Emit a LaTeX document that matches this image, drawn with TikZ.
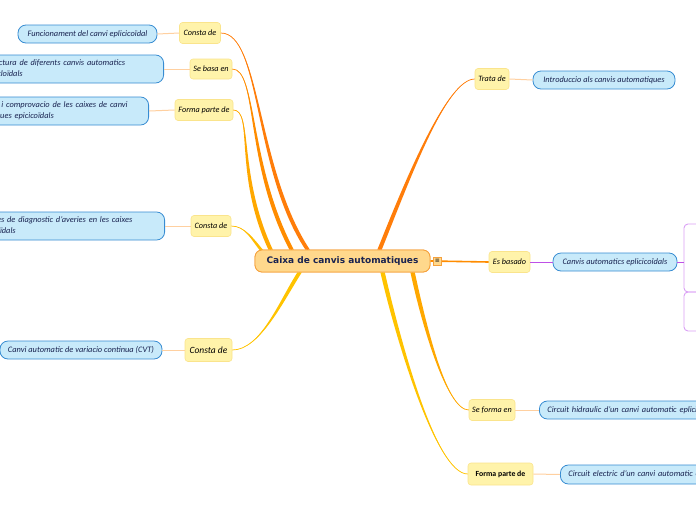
\documentclass[tikz,border=0pt]{standalone}
\usepackage{fontspec}
\setmainfont{Carlito}
\newfontfamily\centerfont{DejaVu Sans}
\usetikzlibrary{calc}
\definecolor{yelfill}{RGB}{255,243,170}
\definecolor{yeldraw}{RGB}{250,228,140}
\definecolor{bluefill}{RGB}{200,234,250}
\definecolor{bluedraw}{RGB}{55,140,210}
\definecolor{navy}{RGB}{25,35,80}
\definecolor{cfill}{RGB}{255,216,140}
\definecolor{cdraw}{RGB}{245,160,60}
\definecolor{peach}{RGB}{255,208,160}
\definecolor{oa}{RGB}{255,125,10}
\definecolor{ob}{RGB}{255,140,0}
\definecolor{oc}{RGB}{255,168,0}
\definecolor{od}{RGB}{255,188,0}
\definecolor{oe}{RGB}{255,195,0}
\definecolor{purp}{RGB}{190,80,230}
\definecolor{purplight}{RGB}{218,160,245}
\newcommand{\tconn}[6]{%
 \fill[#1] (#2) .. controls +(#4) and +(#5) .. ($(#3)+(-#6,0)$) -- ($(#3)+(#6,0)$) .. controls +(#5) and +(#4) .. (#2) -- cycle;
 \draw[#1,line width=0.7] (#2) .. controls +(#4) and +(#5) .. (#3);}
\begin{document}
\begin{tikzpicture}[x=1pt,y=-1pt,
  centerbox/.style={draw=cdraw,fill=cfill,line width=0.8,rounded corners=7,minimum width=175,minimum height=22,inner sep=0,font=\centerfont\bfseries\fontsize{9}{10}\selectfont,text=navy},
  lab/.style={draw=yeldraw,fill=yelfill,line width=0.6,rounded corners=3,inner sep=0,minimum height=21,font=\itshape\fontsize{8.2}{9}\selectfont,text=black},
  bbox/.style={draw=bluedraw,fill=bluefill,line width=0.8,rounded corners=8,inner sep=0,minimum height=18,font=\itshape\fontsize{8.4}{10}\selectfont,text=navy},
  bbox2/.style={bbox,inner xsep=8,inner ysep=0,minimum height=28,align=left,font=\itshape\fontsize{8.4}{11.5}\selectfont},
  thin/.style={draw=peach,line width=1}]
\useasboundingbox (0,0) rectangle (696,520);
\clip (0,0) rectangle (696,520);

% nodes
\node[centerbox] (c) at (342.5,261) {Caixa de canvis automatiques};

\node[lab,minimum width=41] (l1) at (200,33) {Consta de};
\node[lab,minimum width=42,minimum height=20] (l2) at (211,69) {Se basa en};
\node[lab,minimum width=58] (l3) at (204,110) {Forma parte de};
\node[lab,minimum width=40] (l4) at (211,226) {Consta de};
\node[lab,minimum width=47,minimum height=23,font=\itshape\fontsize{9.5}{10}\selectfont] (l5) at (208.5,350) {Consta de};

\node[lab,minimum width=34] (r1) at (492,79) {Trata de};
\node[lab,minimum width=41] (r2) at (509.5,262) {Es basado};
\node[lab,minimum width=46] (r3) at (492,410) {Se forma en};
\node[lab,minimum width=65,minimum height=22,font=\bfseries\fontsize{7.8}{9}\selectfont] (r4) at (500.5,474) {Forma parte de};

\node[bbox,minimum width=139] (b1) at (87.5,34) {Funcionament del canvi eplicicoïdal};
\node[bbox2,anchor=east,text width=174] (b2) at (164,69) {Estructura de diferents canvis automatics\\epicicloïdals};
\node[bbox2,anchor=east,text width=176] (b3) at (149,111) {Reparacio i comprovacio de les caixes de canvi\\automatiques epicicoïdals};
\node[bbox2,anchor=east,text width=182] (b4) at (165,226) {Metodes de diagnostic d'averies en les caixes\\epicicloïdals};
\node[bbox,minimum width=162] (b5) at (81,350) {Canvi automatic de variacio continua (CVT)};

\node[bbox,minimum width=142] (rb1) at (604,80) {Introduccio als canvis automatiques};
\node[bbox,minimum width=124] (rb2) at (615,262) {Canvis automatics eplicicoïdals};
\node[bbox,anchor=west,minimum width=220,align=left,text width=204,inner xsep=8] (rb3) at (539,410) {Circuit hidraulic d'un canvi automatic eplicicoïdal};
\node[bbox,anchor=west,minimum width=220,minimum height=19,align=left,text width=204,inner xsep=8] (rb4) at (560,474.5) {Circuit electric d'un canvi automatic eplicicoïdal};

% end points on central topic
\coordinate (e1) at ($(c.north west)+(53,0)$);
\coordinate (e2) at ($(c.north west)+(37,0)$);
\coordinate (e3) at ($(c.north west)+(16,0)$);
\coordinate (e4) at ($(c.north west)+(8,2)$);
\coordinate (e5) at ($(c.south west)+(45,0)$);
\coordinate (f1) at ($(c.north west)+(125,0)$);
\coordinate (f3) at ($(c.south west)+(158,0)$);
\coordinate (f4) at ($(c.south west)+(128,0)$);

\tconn{oa}{l1.east}{e1}{40,0}{-53,-80}{2.2}
\tconn{ob}{l2.east}{e2}{25,0}{-45,-85}{2.2}
\tconn{oc}{l3.east}{e3}{20,0}{-35,-75}{2.2}
\tconn{od}{l4.east}{e4}{14,0}{-10,-12}{1.8}
\tconn{oe}{l5.east}{e5}{28,0}{-18,28}{2.2}
\tconn{oa}{r1.west}{f1}{-28,0}{28,-70}{2.2}
\tconn{oc}{r3.west}{f3}{-22,0}{12,55}{2.2}
\tconn{oe}{r4.west}{f4}{-32,0}{15,65}{2.2}
\draw[ob,line width=1.6] (c.east) -- (r2.west);
% redraw center over connector ends
\node[centerbox] at (c) {Caixa de canvis automatiques};
\node[draw=cdraw,fill=cfill,line width=0.5,inner sep=0.6,minimum size=8,font=\centerfont\fontsize{6}{6}\selectfont] (icon) at (437.5,261) {≡};

% thin connectors
\draw[thin] (l1.west) -- (b1.east);
\draw[thin] (l2.west) -- (b2.east);
\draw[thin] (l3.west) -- (b3.east);
\draw[thin] (l4.west) -- (b4.east);
\draw[thin] (l5.west) -- (b5.east);
\draw[thin] (r1.east) -- (rb1.west);
\draw[thin] (r3.east) -- (rb3.west);
\draw[thin] (r4.east) -- (rb4.west);
\draw[purp,line width=1] (r2.east) -- (rb2.west);

% purple group
\coordinate (g1) at (684,224);
\coordinate (g2) at (740,292);
\coordinate (g3) at (684,292);
\coordinate (g4) at (740,331);
\draw[purplight,line width=0.9,rounded corners=4] (g1) rectangle (g2);
\draw[purplight,line width=0.9,rounded corners=4] (g3) rectangle (g4);
\coordinate (gm) at (684,262);
\draw[purp,line width=1] (rb2.east) -- (gm);
\end{tikzpicture}
\end{document}
